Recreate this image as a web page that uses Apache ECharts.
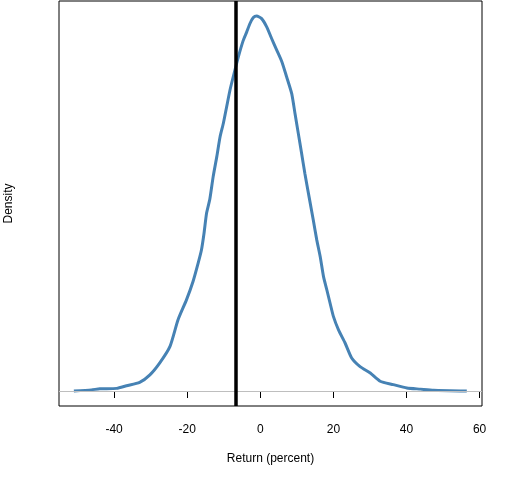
<!DOCTYPE html>
<html>
<head>
<meta charset="utf-8">
<script src="https://cdn.jsdelivr.net/npm/echarts@6/dist/echarts.min.js"></script>
<style>html,body{margin:0;padding:0;background:#fff}#c{width:512px;height:480px}</style>
</head>
<body>
<div id="c"></div>
<script>
// Density curve (x = return in percent, y = density scaled so peak = 1)
const returnX = [-51.0,-46.2,-43.9,-39.3,-36.6,-33.0,-30.2,-27.5,-24.7,-22.5,-20.2,-18.4,-17.0,-16.1,-15.4,-14.7,-13.8,-12.9,-11.9,-11.0,-10.1,-9.2,-8.3,-7.4,-6.0,-4.66,-3.73,-2.82,-1.9,-1.0,0.37,1.75,3.1,4.5,5.9,7.2,8.6,9.5,10.4,11.3,12.2,13.4,14.5,15.45,16.4,17.3,18.2,19.1,20.0,21.4,23.2,25.0,27.3,30.1,32.8,36.4,40.1,43.8,47.4,56.5];
const densityY = [0.0,0.003,0.006,0.007,0.014,0.023,0.043,0.075,0.119,0.19,0.243,0.292,0.341,0.376,0.42,0.474,0.512,0.571,0.625,0.678,0.714,0.758,0.802,0.838,0.891,0.935,0.957,0.98,0.996,1.0,0.993,0.971,0.94,0.909,0.878,0.838,0.793,0.74,0.687,0.634,0.58,0.515,0.456,0.403,0.358,0.305,0.27,0.234,0.199,0.163,0.128,0.088,0.065,0.048,0.026,0.017,0.008,0.005,0.002,0.0];
const xTicks = [-40, -20, 0, 20, 40, 60];
const actualReturn = -6.6;
const baseline = 0;

const chart = echarts.init(document.getElementById('c'), null, {renderer: 'canvas'});
const font = 'Liberation Sans, Arial, sans-serif';
chart.setOption({
  animation: false,
  backgroundColor: '#fff',
  grid: {left: 59, right: 30, top: 1, bottom: 74, show: true, borderColor: '#000', borderWidth: 1, containLabel: false, outerBoundsMode: 'none'},
  xAxis: {
    type: 'value', min: -55.07, max: 60.66,
    axisLine: {show: false},
    splitLine: {show: false},
    axisTick: {show: true, inside: false, length: 7, lineStyle: {color: '#000'}, customValues: xTicks},
    axisLabel: {show: true, margin: 18, color: '#000', fontSize: 12, fontFamily: font, customValues: xTicks},
    name: 'Return (percent)', nameLocation: 'middle', nameGap: 47,
    nameTextStyle: {color: '#000', fontSize: 12, fontFamily: font}
  },
  yAxis: {
    type: 'value', min: -0.04, max: 1.04,
    axisLine: {show: false}, axisTick: {show: false}, axisLabel: {show: false}, splitLine: {show: false},
    name: 'Density', nameLocation: 'middle', nameGap: 44,
    nameTextStyle: {color: '#000', fontSize: 12, fontFamily: font}
  },
  series: [
    {
      type: 'line', data: [], silent: true, z: 1,
      markLine: {silent: true, symbol: 'none', label: {show: false},
        lineStyle: {color: '#BEBEBE', width: 1, type: 'solid'},
        data: [{yAxis: baseline}]}
    },
    {
      type: 'line', showSymbol: false, smooth: 0.2, z: 2,
      lineStyle: {color: '#4682B4', width: 3},
      data: returnX.map((x, i) => [x, densityY[i]])
    },
    {
      type: 'line', data: [], silent: true, z: 3,
      markLine: {silent: true, symbol: 'none', label: {show: false},
        lineStyle: {color: '#000', width: 3.5, type: 'solid'},
        data: [{xAxis: actualReturn}]}
    }
  ]
});
</script>
</body>
</html>
